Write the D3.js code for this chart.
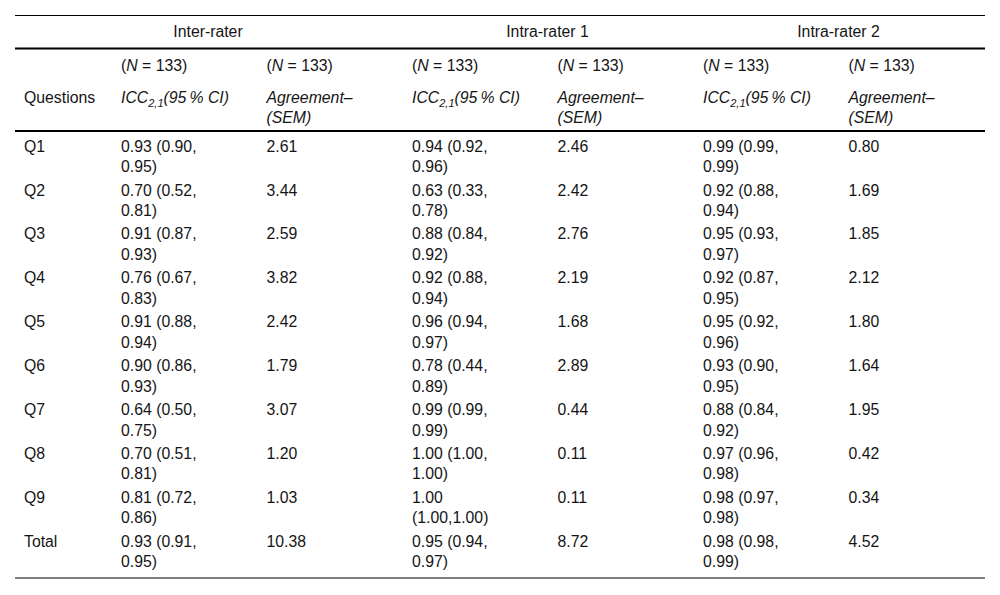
<!DOCTYPE html>
<html>
<head>
<meta charset="utf-8">
<script src="https://cdn.jsdelivr.net/npm/d3@7"></script>
<style>
body { margin: 0; background: #fff; }
text { font-family: "Liberation Sans", Arial, Helvetica, sans-serif; font-size: 15.8px; fill: #151515; }
.it { font-style: italic; }
</style>
</head>
<body>
<svg id="chart" width="1000" height="595"></svg>
<script>
// Table values
var groups = ["Inter-rater", "Intra-rater 1", "Intra-rater 2"];
var questions = ["Q1", "Q2", "Q3", "Q4", "Q5", "Q6", "Q7", "Q8", "Q9", "Total"];
var sampleSize = 133;

var interICC = ["0.93 (0.90, 0.95)", "0.70 (0.52, 0.81)", "0.91 (0.87, 0.93)", "0.76 (0.67, 0.83)",
    "0.91 (0.88, 0.94)", "0.90 (0.86, 0.93)", "0.64 (0.50, 0.75)", "0.70 (0.51, 0.81)",
    "0.81 (0.72, 0.86)", "0.93 (0.91, 0.95)"];
var interSEM = ["2.61", "3.44", "2.59", "3.82", "2.42", "1.79", "3.07", "1.20", "1.03", "10.38"];

var intra1ICC = ["0.94 (0.92, 0.96)", "0.63 (0.33, 0.78)", "0.88 (0.84, 0.92)", "0.92 (0.88, 0.94)",
    "0.96 (0.94, 0.97)", "0.78 (0.44, 0.89)", "0.99 (0.99, 0.99)", "1.00 (1.00, 1.00)",
    "1.00 (1.00,1.00)", "0.95 (0.94, 0.97)"];
var intra1SEM = ["2.46", "2.42", "2.76", "2.19", "1.68", "2.89", "0.44", "0.11", "0.11", "8.72"];

var intra2ICC = ["0.99 (0.99, 0.99)", "0.92 (0.88, 0.94)", "0.95 (0.93, 0.97)", "0.92 (0.87, 0.95)",
    "0.95 (0.92, 0.96)", "0.93 (0.90, 0.95)", "0.88 (0.84, 0.92)", "0.97 (0.96, 0.98)",
    "0.98 (0.97, 0.98)", "0.98 (0.98, 0.99)"];
var intra2SEM = ["0.80", "1.69", "1.85", "2.12", "1.80", "1.64", "1.95", "0.42", "0.34", "4.52"];

var columns = [interICC, interSEM, intra1ICC, intra1SEM, intra2ICC, intra2SEM];

var svg = d3.select("#chart");
var left = 15, right = 985, firstColRight = 112, pad = 9;
var lineH = 20.5, capShift = 5.6;

// data columns
var x = d3.scaleBand().domain(d3.range(columns.length)).range([firstColRight, right]);
// body rows
var y = d3.scaleBand().domain(questions).range([131, 131 + questions.length * 43.9]);
var rowText = function(q) { return y(q) + 15 + capShift; };

function rule(yy, w) {
    svg.append("line")
    .attr("x1", left).attr("x2", right)
    .attr("y1", yy).attr("y2", yy)
    .style("stroke", "#000")
    .style("stroke-width", w);
}

rule(15.5, 1.2);
rule(48.5, 2.2);
rule(y.range()[0], 2.2);
rule(y.range()[1] + 8, 1.2);

// group headers, centred over pairs of columns (first one includes the Questions column)
svg.selectAll(".group")
.data(groups)
.enter()
.append("text")
.attr("class", "group")
.attr("text-anchor", "middle")
.attr("x", function(d, i) {
    var a = i == 0 ? left : x(i * 2);
    return (a + x(i * 2 + 1) + x.bandwidth()) / 2 - 1;
})
.attr("y", 31 + capShift)
.text(function(d) { return d; });

// (N = 133) row
var nRow = svg.selectAll(".nrow")
.data(columns)
.enter()
.append("text")
.attr("class", "nrow")
.attr("x", function(d, i) { return x(i) + pad; })
.attr("y", 65 + capShift);
nRow.append("tspan").text("(");
nRow.append("tspan").attr("class", "it").text("N");
nRow.append("tspan").text(" = " + sampleSize + ")");

// column labels
svg.append("text")
.attr("x", left + pad)
.attr("y", 97 + capShift)
.text("Questions");

columns.forEach(function(col, i) {
    var t = svg.append("text")
    .attr("class", "it")
    .attr("x", x(i) + pad)
    .attr("y", 97 + capShift);
    if (i % 2 == 0) {
        t.append("tspan").text("ICC");
        t.append("tspan").attr("dy", 4.5).style("font-size", "11px").text("2,1");
        t.append("tspan").attr("dy", -4.5).text("(95\u2009% CI)");
    } else {
        t.append("tspan").text("Agreement\u2013");
        t.append("tspan").attr("x", x(i) + pad).attr("dy", lineH).text("(SEM)");
    }
});

// body: question names
svg.selectAll(".qname")
.data(questions)
.enter()
.append("text")
.attr("class", "qname")
.attr("x", left + pad)
.attr("y", rowText)
.text(function(d) { return d; });

// body: cells, ICC strings wrap at their last space
columns.forEach(function(col, i) {
    var cells = svg.selectAll(".c" + i)
    .data(col)
    .enter()
    .append("text")
    .attr("class", "c" + i)
    .attr("x", x(i) + pad)
    .attr("y", function(d, j) { return rowText(questions[j]); });

    cells.each(function(d) {
        var k = d.lastIndexOf(" ");
        var sel = d3.select(this);
        if (k < 0) {
            sel.text(d);
        } else {
            sel.append("tspan").text(d.slice(0, k + 1));
            sel.append("tspan").attr("x", x(i) + pad).attr("dy", lineH).text(d.slice(k + 1));
        }
    });
});
</script>
</body>
</html>
